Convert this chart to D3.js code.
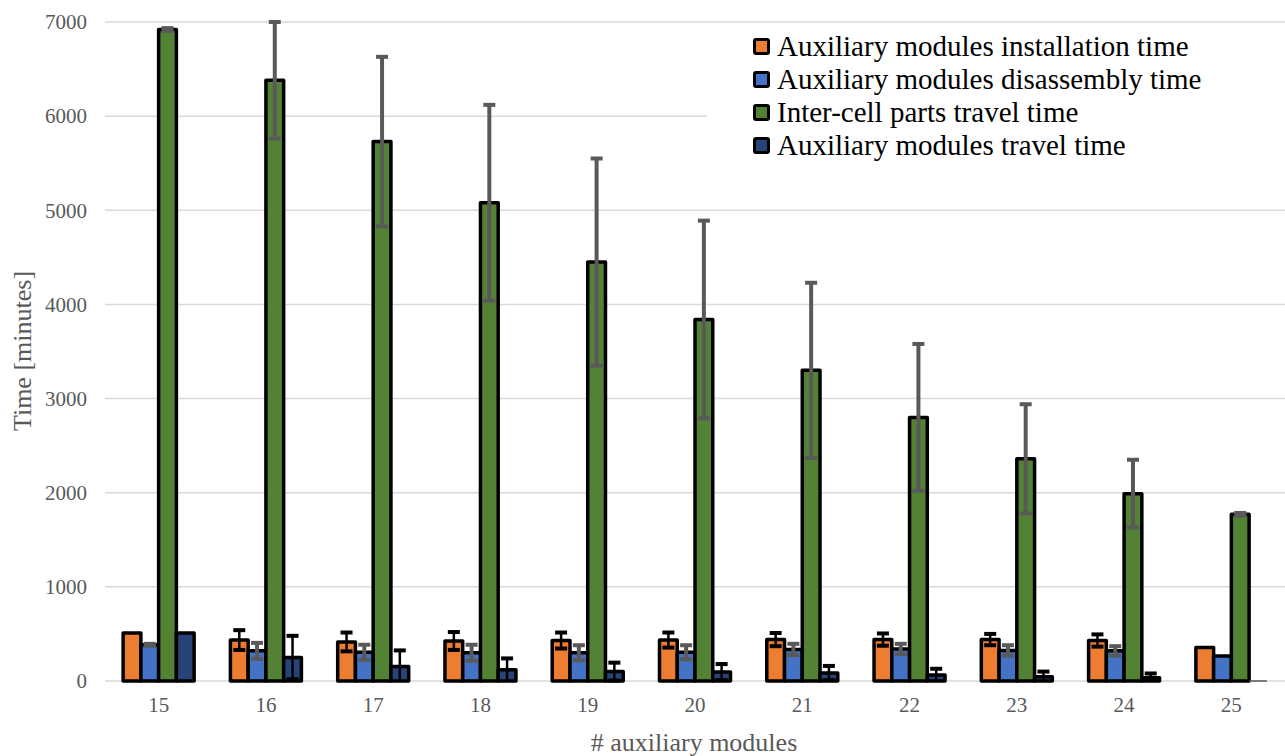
<!DOCTYPE html>
<html>
<head>
<meta charset="utf-8">
<script src="https://cdn.jsdelivr.net/npm/d3@7"></script>
<style>
  body { margin: 0; background: #fff; }
  text { font-family: 'Liberation Serif', 'Times New Roman', serif; }
</style>
</head>
<body>
<div id="chart"></div>
<script>

// number of auxiliary modules (x categories)
const modules = ['15', '16', '17', '18', '19', '20', '21', '22', '23', '24', '25'];

const seriesNames = [
  'Auxiliary modules installation time',
  'Auxiliary modules disassembly time',
  'Inter-cell parts travel time',
  'Auxiliary modules travel time'
];
const seriesColors = ['#ED7D31', '#4472C4', '#548235', '#264478'];
const errorColors = ['#000000', '#595959', '#595959', '#000000'];

// mean values [minutes]
const installTime = [510, 435, 415, 425, 430, 435, 440, 440, 440, 430, 355];
const disassemblyTime = [385, 320, 305, 300, 300, 305, 335, 340, 325, 320, 265];
const interCellTime = [6920, 6380, 5730, 5080, 4450, 3840, 3300, 2800, 2360, 1990, 1770];
const auxTravelTime = [510, 250, 155, 120, 100, 95, 85, 65, 45, 35, 0];

// error bar half-widths [minutes]
const installErr = [0, 105, 100, 95, 85, 80, 70, 65, 60, 65, 0];
const disassemblyErr = [10, 85, 80, 85, 80, 75, 60, 55, 55, 50, 0];
const interCellErr = [15, 620, 900, 1040, 1100, 1050, 930, 780, 580, 360, 15];
const auxTravelErr = [0, 230, 170, 120, 95, 85, 75, 65, 55, 45, 0];

const yTicks = [0, 1000, 2000, 3000, 4000, 5000, 6000, 7000];

const values = [installTime, disassemblyTime, interCellTime, auxTravelTime];
const errors = [installErr, disassemblyErr, interCellErr, auxTravelErr];

const FONT = "'Liberation Serif', 'Times New Roman', serif";

var width = 1285;
var height = 756;

var svg = d3.select('#chart').append('svg')
    .attr('width', width)
    .attr('height', height)
    .attr('font-family', FONT);

const x0 = d3.scaleBand()
    .domain(modules)
    .range([105, 1285]);

// bars of one group take ~2/3 of the band
const groupW = 71;
const x1 = d3.scaleBand()
    .domain(d3.range(seriesNames.length))
    .range([0, groupW]);

const y = d3.scaleLinear()
    .domain([0, 7000])
    .range([681, 22]);

// gridlines
svg.append('g')
    .selectAll('line')
    .data(yTicks)
    .join('line')
    .attr('x1', 105)
    .attr('x2', 1285)
    .attr('y1', d => y(d))
    .attr('y2', d => y(d))
    .attr('stroke', '#d9d9d9')
    .attr('stroke-width', 1.5);

// y tick labels
svg.append('g')
    .selectAll('text')
    .data(yTicks)
    .join('text')
    .attr('x', 87)
    .attr('y', d => y(d))
    .attr('dy', '0.35em')
    .attr('text-anchor', 'end')
    .attr('fill', '#595959')
    .style('font-size', '21px')
    .text(d => d);

// x tick labels
svg.append('g')
    .selectAll('text')
    .data(modules)
    .join('text')
    .attr('x', d => x0(d) + x0.bandwidth() / 2)
    .attr('y', 712)
    .attr('text-anchor', 'middle')
    .attr('fill', '#595959')
    .style('font-size', '21px')
    .text(d => d);

// axis titles
svg.append('text')
    .attr('transform', 'translate(31,351) rotate(-90)')
    .attr('text-anchor', 'middle')
    .attr('fill', '#595959')
    .style('font-size', '26px')
    .text('Time [minutes]');

svg.append('text')
    .attr('x', 694)
    .attr('y', 751)
    .attr('text-anchor', 'middle')
    .attr('fill', '#595959')
    .style('font-size', '26px')
    .text('# auxiliary modules');

// flatten data into one record per bar
const bars = [];
modules.forEach((m, i) => {
  values.forEach((vals, s) => {
    bars.push({ module: m, s: s, value: vals[i], err: errors[s][i] });
  });
});

const groupX = d => x0(d.module) + (x0.bandwidth() - groupW) / 2 + x1(d.s);

// bars
svg.append('g')
    .selectAll('rect')
    .data(bars.filter(d => d.value > 0))
    .join('rect')
    .attr('x', d => groupX(d))
    .attr('y', d => y(d.value))
    .attr('width', x1.bandwidth())
    .attr('height', d => y(0) - y(d.value))
    .attr('fill', d => seriesColors[d.s])
    .attr('stroke', '#000')
    .attr('stroke-width', 3.5)
    .attr('stroke-linejoin', 'round');

// zero-height bar for the last group is just a flat line
svg.append('g')
    .selectAll('line')
    .data(bars.filter(d => d.value === 0))
    .join('line')
    .attr('x1', d => groupX(d))
    .attr('x2', d => groupX(d) + x1.bandwidth())
    .attr('y1', y(0))
    .attr('y2', y(0))
    .attr('stroke', '#595959')
    .attr('stroke-width', 1.5);

// error bars
const errG = svg.append('g');
const withErr = bars.filter(d => d.err > 0);
const cx = d => groupX(d) + x1.bandwidth() / 2;
const capW = 12;

errG.selectAll('.stem')
    .data(withErr)
    .join('line')
    .attr('class', 'stem')
    .attr('x1', cx)
    .attr('x2', cx)
    .attr('y1', d => y(d.value + d.err))
    .attr('y2', d => y(Math.max(0, d.value - d.err)))
    .attr('stroke', d => errorColors[d.s])
    .attr('stroke-width', d => errorColors[d.s] === '#000000' ? 2.5 : 4);

errG.selectAll('.capTop')
    .data(withErr)
    .join('line')
    .attr('class', 'capTop')
    .attr('x1', d => cx(d) - capW / 2)
    .attr('x2', d => cx(d) + capW / 2)
    .attr('y1', d => y(d.value + d.err))
    .attr('y2', d => y(d.value + d.err))
    .attr('stroke', d => errorColors[d.s])
    .attr('stroke-width', 4);

errG.selectAll('.capBottom')
    .data(withErr.filter(d => d.value - d.err > 0))
    .join('line')
    .attr('class', 'capBottom')
    .attr('x1', d => cx(d) - capW / 2)
    .attr('x2', d => cx(d) + capW / 2)
    .attr('y1', d => y(d.value - d.err))
    .attr('y2', d => y(d.value - d.err))
    .attr('stroke', d => errorColors[d.s])
    .attr('stroke-width', 4);

// legend with white background
const legend = svg.append('g');

legend.append('rect')
    .attr('x', 707)
    .attr('y', 28)
    .attr('width', 578)
    .attr('height', 136)
    .attr('fill', '#fff');

const legendRow = legend.selectAll('g')
    .data(seriesNames)
    .join('g')
    .attr('transform', (d, i) => `translate(753,${46 + i * 33})`);

legendRow.append('rect')
    .attr('x', 1.5)
    .attr('y', -6.5)
    .attr('width', 14)
    .attr('height', 14)
    .attr('rx', 1.5)
    .attr('fill', (d, i) => seriesColors[i])
    .attr('stroke', '#000')
    .attr('stroke-width', 3);

legendRow.append('text')
    .attr('x', 24)
    .attr('y', 0)
    .attr('dy', '0.35em')
    .attr('fill', '#000')
    .style('font-size', '29px')
    .text(d => d);

</script>
</body>
</html>
